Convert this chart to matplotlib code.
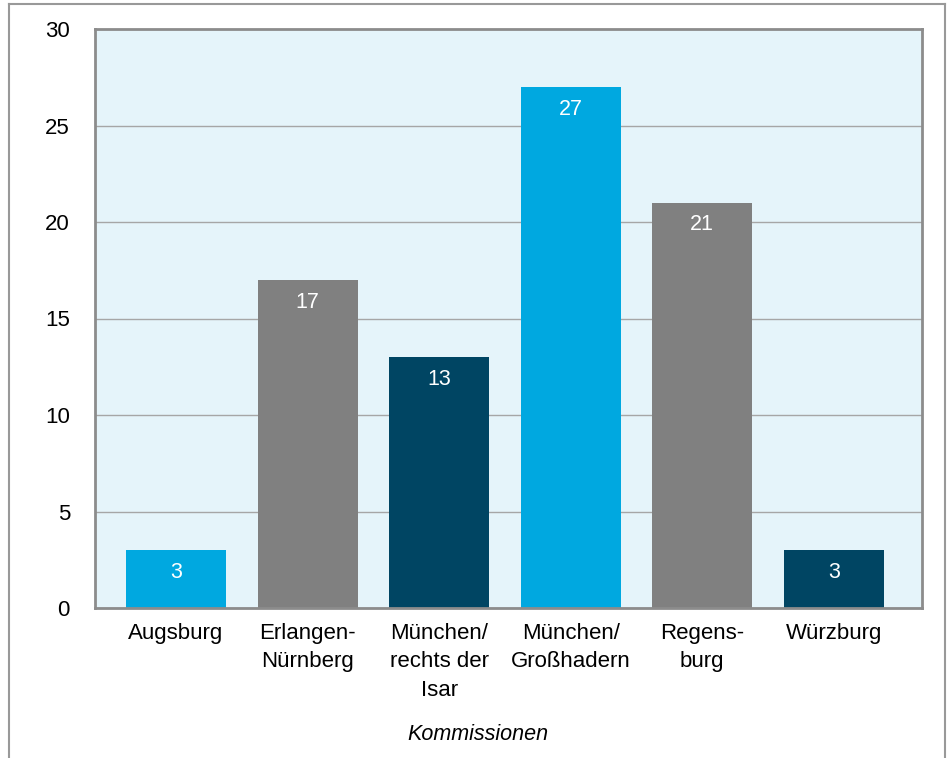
import matplotlib.pyplot as plt
from matplotlib.lines import Line2D

plt.rcParams['font.family'] = ['Liberation Sans', 'DejaVu Sans']

categories = ['Augsburg', 'Erlangen-\nNürnberg', 'München/\nrechts der\nIsar',
              'München/\nGroßhadern', 'Regens-\nburg', 'Würzburg']
values = [3, 17, 13, 27, 21, 3]
colors = ['#00A8E0', '#808080', '#004563', '#00A8E0', '#808080', '#004563']

W, H = 951, 758
fig = plt.figure(figsize=(W / 100, H / 100), dpi=100)
ax = fig.add_axes([95 / W, 1 - 608 / H, (922 - 95) / W, (608 - 29) / H])

# outer frame (left, top, right only)
for xs, ys in [([9, 9], [0, 4]), ([9, 945], [4, 4]), ([945, 945], [4, 0])]:
    fig.add_artist(Line2D([x / W for x in xs], [1 - y / H if y else 0 for y in ys],
                          color='#999999', lw=1.5))

x = range(len(categories))
bars = ax.bar(x, values, width=0.76, color=colors, zorder=3)
for b, v in zip(bars, values):
    ax.text(b.get_x() + b.get_width() / 2, v - 1.15, str(v), ha='center', va='center',
            color='white', fontsize=15.5, zorder=4)

ax.set_facecolor('#E5F4FA')
ax.set_xlim(-0.615, 5.67)
ax.set_ylim(0, 30)
ax.set_yticks(range(0, 31, 5))
ax.yaxis.grid(True, color='#A6A6A6', lw=1, zorder=0)
ax.tick_params(axis='both', length=0, labelsize=16)
ax.tick_params(axis='y', pad=18)
ax.tick_params(axis='x', pad=11)
ax.set_xticks(list(x))
ax.set_xticklabels(categories, linespacing=1.45)
for s in ax.spines.values():
    s.set_color('#8C8C8C')
    s.set_linewidth(2)
    s.set_zorder(5)

fig.text(478 / W, 1 - 735 / H, 'Kommissionen', fontsize=15.5, style='italic',
         ha='center', va='center')

plt.savefig('out.png', dpi=100)
